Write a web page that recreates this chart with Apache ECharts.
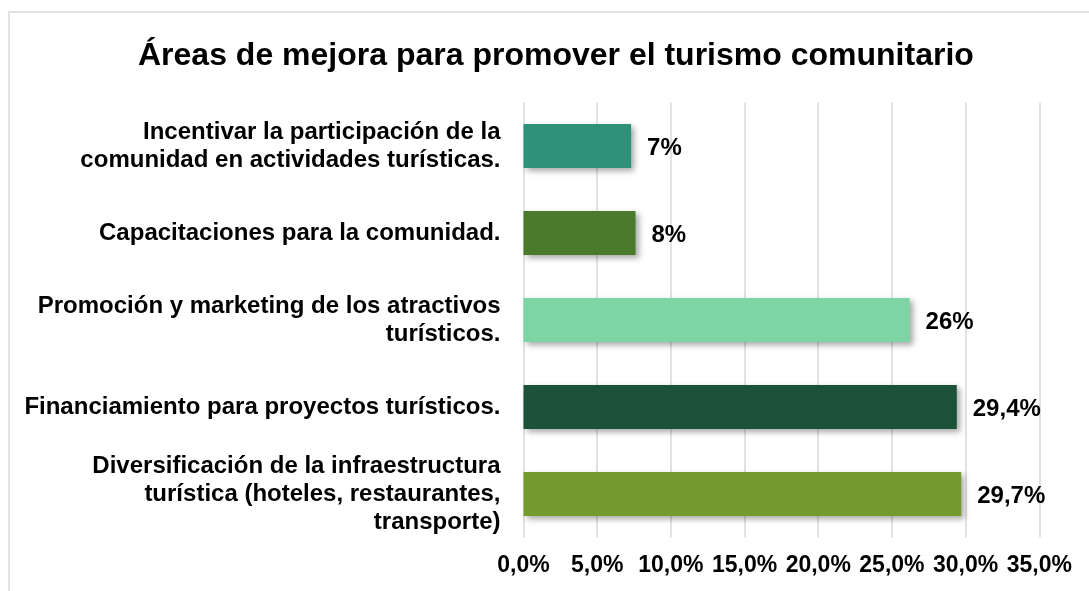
<!DOCTYPE html>
<html>
<head>
<meta charset="utf-8">
<script src="https://cdn.jsdelivr.net/npm/echarts@6/dist/echarts.min.js"></script>
<style>
html,body{margin:0;padding:0;background:#fff;}
#chart{width:1089px;height:591px;}
</style>
</head>
<body>
<div id="chart"></div>
<script>
const titleText = 'Áreas de mejora para promover el turismo comunitario';
const categories = [
  'Diversificación de la infraestructura\nturística (hoteles, restaurantes,\ntransporte)',
  'Financiamiento para proyectos turísticos.',
  'Promoción y marketing de los atractivos\nturísticos.',
  'Capacitaciones para la comunidad.',
  'Incentivar la participación de la\ncomunidad en actividades turísticas.'
];
const values = [29.7, 29.4, 26.2, 7.6, 7.3];
const valueLabels = ['29,7%', '29,4%', '26%', '8%', '7%'];
const barColors = ['#739A2D', '#1C5338', '#7DD5A6', '#4A7A2B', '#2E927A'];
const xTicks = [0, 5, 10, 15, 20, 25, 30, 35];

const FONT = '"Liberation Sans", Arial, sans-serif';
const chart = echarts.init(document.getElementById('chart'));
chart.setOption({
  animation: false,
  backgroundColor: '#fff',
  graphic: [{
    type: 'rect', silent: true, z: -10,
    shape: {x: 9, y: 12, width: 1200, height: 700},
    style: {fill: 'none', stroke: '#d9d9d9', lineWidth: 1.5}
  }],
  title: {
    text: titleText,
    left: 133,
    top: 35,
    textStyle: {fontFamily: FONT, fontWeight: 'bold', fontSize: 32, color: '#000'}
  },
  grid: {left: 523.5, right: 49.7, top: 102.5, bottom: 53.5, containLabel: false},
  xAxis: {
    type: 'value',
    min: xTicks[0], max: xTicks[xTicks.length - 1], interval: 5,
    axisLine: {show: false},
    axisTick: {show: false},
    splitLine: {show: true, lineStyle: {color: '#d9d9d9', width: 1.5}},
    axisLabel: {
      margin: 17,
      fontFamily: FONT, fontWeight: 'bold', fontSize: 23, color: '#000',
      formatter: v => v.toFixed(1).replace('.', ',') + '%'
    }
  },
  yAxis: {
    type: 'category',
    data: categories,
    axisLine: {show: false},
    axisTick: {show: false},
    axisLabel: {
      margin: 23,
      align: 'right',
      lineHeight: 28,
      fontFamily: FONT, fontWeight: 'bold', fontSize: 24, color: '#000'
    }
  },
  series: [{
    type: 'bar',
    barWidth: 44,
    data: values.map((v, i) => ({value: v, itemStyle: {color: barColors[i]}})),
    itemStyle: {
      shadowBlur: 6, shadowOffsetX: 3, shadowOffsetY: 3, shadowColor: 'rgba(0,0,0,0.35)'
    },
    label: {
      show: true, position: 'right', distance: 16, offset: [0, 2],
      fontFamily: FONT, fontWeight: 'bold', fontSize: 24, color: '#000',
      formatter: p => valueLabels[p.dataIndex]
    }
  }]
});
</script>
</body>
</html>
